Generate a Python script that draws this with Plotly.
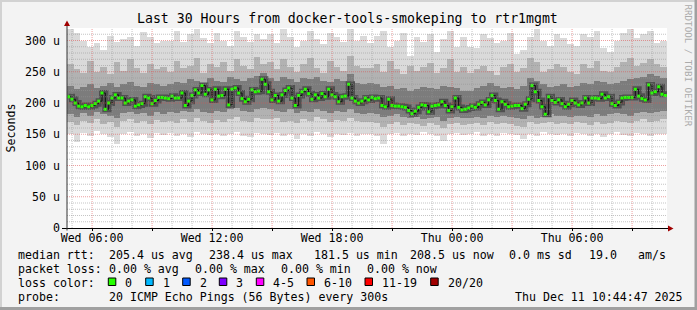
import numpy as np
import pandas as pd
import plotly.graph_objects as go

# ---------------- data ----------------
START = pd.Timestamp("2025-12-10 04:44:47")
END = pd.Timestamp("2025-12-11 10:44:47")

# median rtt (microseconds), one value per 10 minutes
median_us = [
    210, 206, 200, 195, 194, 196, 194, 196, 199, 203, 216, 190, 200, 208, 213, 208, 208, 200, 203, 205, 195, 197, 199, 210, 208, 199, 204, 209, 209, 208,
    207, 211, 208, 208, 216, 196, 203, 212, 221, 216, 228, 214, 221, 205, 222, 211, 212, 222, 197, 222, 224, 216, 207, 202, 206, 221, 218, 219, 238, 230,
    218, 205, 212, 203, 213, 220, 224, 208, 196, 212, 218, 222, 215, 206, 213, 208, 215, 210, 222, 213, 210, 202, 210, 211, 230, 208, 203, 200, 203, 208,
    205, 209, 207, 208, 196, 194, 206, 196, 195, 195, 194, 193, 188, 183, 187, 193, 197, 196, 186, 195, 196, 197, 202, 196, 188, 194, 208, 193, 189, 190,
    192, 195, 193, 198, 201, 197, 205, 212, 204, 190, 202, 198, 194, 195, 196, 196, 191, 198, 206, 228, 218, 204, 194, 182, 210, 204, 201, 205, 199, 194,
    198, 204, 200, 197, 200, 208, 200, 208, 208, 207, 214, 208, 210, 199, 196, 201, 208, 209, 209, 209, 222, 211, 207, 205, 229, 216, 218, 226, 214, 212,
]

# smoke envelopes (microseconds), one value per 20 minutes
smoke_max = [
    318, 312, 300, 290, 296, 285, 308, 298, 302, 306, 292, 314, 305, 296, 300,
    300, 316, 298, 310, 318, 304, 296, 312, 300, 292, 315, 306, 298, 310, 302,
    310, 296, 318, 305, 290, 300, 315, 302, 294, 312, 306, 298, 318, 300, 308,
    296, 308, 316, 290, 300, 312, 275, 305, 298, 310, 282, 302, 316, 290, 306,
    290, 288, 310, 304, 296, 300, 312, 278, 285, 306, 318, 300, 292, 310, 304,
    295, 292, 310, 306, 316, 288, 282, 300, 312, 318, 304, 310, 316, 296, 300,
]
smoke_min = [
    150, 138, 152, 148, 155, 150, 146, 135, 150, 153, 148, 150, 144, 152, 149,
    152, 148, 150, 146, 154, 150, 149, 151, 147, 150, 153, 148, 146, 152, 150,
    149, 152, 147, 150, 142, 151, 148, 153, 150, 146, 150, 149, 152, 148, 150,
    151, 148, 134, 150, 152, 147, 150, 149, 153, 151, 148, 140, 150, 152, 149,
    150, 153, 148, 150, 147, 152, 150, 149, 143, 150, 148, 153, 150, 149, 151,
    148, 152, 150, 147, 151, 146, 150, 153, 149, 148, 152, 150, 147, 151, 150,
]
smoke_hi_mid = [
    262, 255, 248, 268, 250, 258, 246, 265, 252, 270, 256, 248, 262, 254, 258,
    250, 268, 256, 260, 272, 248, 262, 258, 266, 252, 270, 260, 255, 274, 262,
    266, 254, 270, 258, 250, 262, 272, 256, 248, 268, 258, 252, 275, 260, 256,
    256, 262, 250, 268, 254, 246, 260, 252, 258, 264, 248, 256, 270, 250, 258,
    248, 254, 260, 252, 245, 258, 262, 250, 256, 272, 266, 250, 254, 262, 258,
    250, 246, 262, 256, 268, 252, 250, 258, 266, 272, 260, 264, 270, 262, 258,
]
smoke_lo_mid = [
    170, 165, 172, 168, 175, 166, 170, 162, 172, 174, 168, 171, 166, 173, 170,
    172, 168, 174, 170, 176, 172, 168, 173, 170, 175, 178, 172, 169, 176, 174,
    174, 176, 170, 172, 168, 175, 172, 177, 174, 170, 173, 172, 176, 171, 170,
    170, 168, 162, 167, 170, 165, 168, 166, 164, 168, 165, 160, 166, 168, 165,
    166, 168, 165, 170, 166, 168, 167, 164, 162, 170, 166, 168, 170, 167, 168,
    166, 170, 168, 165, 170, 166, 168, 172, 170, 168, 172, 174, 170, 172, 175,
]
smoke_hi_in = [
    228, 222, 225, 230, 224, 228, 232, 226, 230, 234, 228, 226, 232, 230, 228,
    230, 234, 232, 238, 236, 232, 240, 236, 234, 242, 238, 236, 240, 244, 248,
    240, 236, 242, 238, 234, 240, 238, 242, 236, 234, 238, 236, 246, 232, 230,
    232, 230, 226, 228, 222, 224, 220, 222, 226, 224, 222, 228, 226, 224, 220,
    220, 224, 228, 232, 228, 224, 226, 222, 228, 240, 236, 230, 226, 228, 230,
    226, 228, 232, 230, 236, 234, 230, 232, 236, 238, 240, 242, 246, 244, 240,
]
smoke_lo_in = [
    182, 178, 184, 180, 186, 182, 180, 176, 184, 186, 182, 184, 180, 185, 183,
    186, 184, 188, 186, 190, 186, 184, 188, 186, 190, 192, 188, 186, 190, 192,
    190, 188, 186, 190, 184, 188, 186, 190, 188, 184, 188, 186, 190, 184, 182,
    184, 182, 178, 180, 182, 178, 176, 178, 174, 176, 178, 172, 176, 178, 176,
    176, 178, 176, 180, 178, 180, 178, 176, 174, 180, 176, 178, 182, 180, 180,
    178, 180, 180, 178, 182, 180, 182, 184, 182, 180, 184, 186, 184, 186, 188,
]

x_tick_labels = ["Wed 06:00", "Wed 12:00", "Wed 18:00", "Thu 00:00", "Thu 06:00"]
y_tick_values = [0, 50, 100, 150, 200, 250, 300]
y_tick_labels = ["0", "50 u", "100 u", "150 u", "200 u", "250 u", "300 u"]

loss_labels = ["0", "1", "2", "3", "4-5", "6-10", "11-19", "20/20"]
loss_colors = ["#26ff00", "#00b8ff", "#0059ff", "#7e00ff", "#ff00ff", "#ff5500", "#ff0000", "#a10000"]

title_text = "Last 30 Hours from docker-tools-smokeping to rtr1mgmt"

# ---------------- geometry helpers ----------------
W_IMG, H_IMG = 697, 310
L, T, W, H = 67, 28, 600, 200
FONT = "DejaVu Sans Mono"


def px(xp):
    return (xp - L) / W


def py(yp):
    return (T + H - yp) / H


med_t = START + pd.to_timedelta(5 + 10 * np.arange(len(median_us)), unit="min")
bkt_t = START + pd.to_timedelta(10 + 20 * np.arange(len(smoke_max)), unit="min")
BW = 20 * 60 * 1000

fig = go.Figure()


def band(lo, hi, color):
    fig.add_trace(go.Bar(
        x=bkt_t, y=[h - l for l, h in zip(lo, hi)], base=lo, width=BW,
        marker=dict(color=color, line=dict(width=0)), hoverinfo="skip"))


band(smoke_min, smoke_max, "#dadada")
band(smoke_lo_mid, smoke_hi_mid, "#b2b2b2")
band(smoke_lo_in, smoke_hi_in, "#7c7c7c")

fig.add_trace(go.Scatter(x=med_t, y=median_us, mode="lines", line=dict(color="#505050", width=6, shape="hv"),
                         hoverinfo="skip"))
fig.add_trace(go.Scatter(x=med_t, y=median_us, mode="lines", line=dict(color="#111111", width=1, shape="hv"),
                         hoverinfo="skip"))
fig.add_trace(go.Scatter(x=med_t, y=median_us, mode="markers",
                         marker=dict(symbol="square", size=3, color=loss_colors[0], line=dict(width=0)),
                         hoverinfo="skip"))

shapes = []
# horizontal grid
for v in range(10, 320, 10):
    major = v % 50 == 0
    shapes.append(dict(type="line", xref="paper", yref="y", x0=0, x1=1, y0=v, y1=v, layer="above",
                       line=dict(color="rgba(222,80,80,0.55)" if major else "rgba(150,150,150,0.55)",
                                 width=1, dash="1px,1px")))
# vertical grid
for h in pd.date_range("2025-12-10 05:00", "2025-12-11 10:00", freq="h"):
    major = h.hour % 3 == 0
    shapes.append(dict(type="line", xref="x", yref="paper", x0=h, x1=h, y0=0, y1=1, layer="above",
                       line=dict(color="rgba(222,80,80,0.55)" if major else "rgba(150,150,150,0.55)",
                                 width=1, dash="1px,1px")))
# axes
shapes.append(dict(type="line", xref="paper", yref="paper", x0=px(62), x1=px(668), y0=py(228.5), y1=py(228.5),
                   layer="above", line=dict(color="#000000", width=1)))
shapes.append(dict(type="line", xref="paper", yref="paper", x0=px(67), x1=px(67), y0=py(230.5), y1=py(24),
                   layer="above", line=dict(color="#333333", width=1)))
shapes.append(dict(type="path", xref="paper", yref="paper", layer="above", line=dict(width=0), fillcolor="#a00000",
                   path=f"M {px(668)} {py(225.5)} L {px(673.5)} {py(228.5)} L {px(668)} {py(231.5)} Z"))
shapes.append(dict(type="path", xref="paper", yref="paper", layer="above", line=dict(width=0), fillcolor="#a00000",
                   path=f"M {px(64)} {py(26)} L {px(67)} {py(20.5)} L {px(70)} {py(26)} Z"))
# frame of the image
shapes.append(dict(type="rect", xref="paper", yref="paper", x0=px(0), x1=px(W_IMG), y0=py(0), y1=py(2),
                   line=dict(width=0), fillcolor="#d2d2d2"))
shapes.append(dict(type="rect", xref="paper", yref="paper", x0=px(0), x1=px(2), y0=py(0), y1=py(H_IMG),
                   line=dict(width=0), fillcolor="#d2d2d2"))
shapes.append(dict(type="rect", xref="paper", yref="paper", x0=px(694.5), x1=px(W_IMG), y0=py(0), y1=py(H_IMG),
                   line=dict(width=0), fillcolor="#a0a0a0"))
shapes.append(dict(type="rect", xref="paper", yref="paper", x0=px(0), x1=px(W_IMG), y0=py(307), y1=py(H_IMG),
                   line=dict(width=0), fillcolor="#a0a0a0"))

annotations = []


def txt(s, x, y, size=11.6, color="#000000", anchor="left", angle=0):
    annotations.append(dict(text=s.replace(" ", "\u00a0"), x=px(x), y=py(y), xref="paper", yref="paper",
                            xanchor=anchor, yanchor="middle", showarrow=False, textangle=angle,
                            font=dict(family=FONT, size=size, color=color)))


txt(title_text, 347.5, 18.5, size=13.2, anchor="center")
txt("Seconds", 10.5, 128, anchor="center", angle=-90)
txt("RRDTOOL / TOBI OETIKER", 688.5, 65, size=9.2, color="#ababab", anchor="center", angle=90)

row1 = [("median rtt:", 16), ("205.4 us avg", 107.3), ("238.4 us max", 207.3), ("181.5 us min", 311.7),
        ("208.5 us now", 407.7), ("0.0 ms sd", 507.3), ("19.0", 586.7), ("am/s", 635.5)]
row2 = [("packet loss:", 16), ("0.00 % avg", 107.3), ("0.00 % max", 193.3), ("0.00 % min", 279.3),
        ("0.00 % now", 365)]
row4 = [("probe:", 16), ("20 ICMP Echo Pings (56 Bytes) every 300s", 107.3), ("Thu Dec 11 10:44:47 2025", 513.3)]
for s, x in row1:
    txt(s, x, 254.8)
for s, x in row2:
    txt(s, x, 268.8)
txt("loss color:", 16, 282.6)
for s, x in row4:
    txt(s, x, 296.6)

box_x = [108.3, 145.7, 182.7, 219.3, 256.3, 307.0, 365.0, 430.7]
for lab, col, bx in zip(loss_labels, loss_colors, box_x):
    shapes.append(dict(type="rect", xref="paper", yref="paper", x0=px(bx), x1=px(bx + 7.5), y0=py(278), y1=py(285.5),
                       line=dict(color="#000000", width=1), fillcolor=col))
    txt(lab, bx + 15, 282.6)

tick_t = pd.date_range("2025-12-10 06:00", "2025-12-11 09:00", freq="3h")
tick_text = []
k = 0
for i in range(len(tick_t)):
    if i % 2 == 0:
        tick_text.append(x_tick_labels[k])
        k += 1
    else:
        tick_text.append("")

fig.update_layout(
    width=W_IMG, height=H_IMG,
    margin=dict(l=L, r=W_IMG - L - W, t=T, b=H_IMG - T - H, pad=0),
    paper_bgcolor="#f3f3f3", plot_bgcolor="#ffffff",
    barmode="overlay", bargap=0, showlegend=False,
    shapes=shapes, annotations=annotations,
    xaxis=dict(type="date", range=[START, END], tickvals=tick_t, ticktext=tick_text,
               showgrid=False, zeroline=False, showline=False, ticks="outside", ticklen=2, tickcolor="#000000",
               tickfont=dict(family=FONT, size=11.6, color="#000000"), ticklabelstandoff=-3, fixedrange=True),
    yaxis=dict(range=[0, 320], tickvals=y_tick_values, ticktext=y_tick_labels,
               showgrid=False, zeroline=False, showline=False, ticks="",
               tickfont=dict(family=FONT, size=11.6, color="#000000"), ticklabelstandoff=6, fixedrange=True),
)

fig.write_html("out.html")
